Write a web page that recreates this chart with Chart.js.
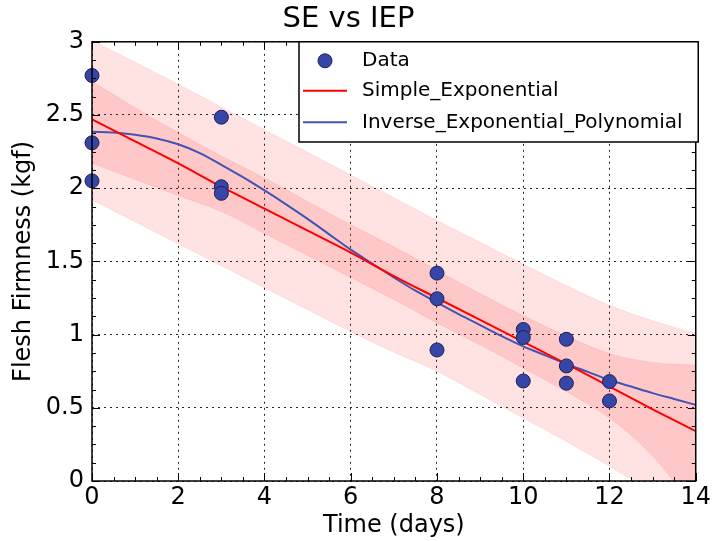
<!DOCTYPE html>
<html><head><meta charset="utf-8">
<script src="https://cdn.jsdelivr.net/npm/chart.js@4.4.1/dist/chart.umd.min.js"></script>
<style>html,body{margin:0;padding:0;background:#fff}canvas{display:block}</style>
</head><body>
<canvas id="c" width="713" height="541"></canvas>
<script>
// ---- chart text ----
const chartTitle = 'SE vs IEP';
const xAxisTitle = 'Time (days)';
const yAxisTitle = 'Flesh Firmness (kgf)';
const xTickLabels = ['0','2','4','6','8','10','12','14'];
const yTickLabels = ['0','0.5','1','1.5','2','2.5','3'];
const seriesNames = ['Data','Simple_Exponential','Inverse_Exponential_Polynomial'];

// ---- measured data ----
const dataX = [0,0,0, 3,3,3, 8,8,8, 10,10,10, 11,11,11, 12,12];
const dataY = [2.77,2.31,2.05, 2.485,2.01,1.965, 1.42,1.245,0.895, 1.035,0.98,0.683, 0.968,0.786,0.668, 0.679,0.547];

// ---- fitted curves ----
const curveX = [0,1,2,3,4,5,6,7,8,9,10,11,12,13,14];
const seY    = [2.47,2.32,2.17,2.01,1.86,1.71,1.56,1.40,1.25,1.10,0.95,0.80,0.645,0.49,0.34];
const iepX   = [0,0.5,1,1.5,2,2.5,3,3.5,4,4.5,5,5.5,6,6.5,7,7.5,8,8.5,9,9.5,10,10.5,11,11.5,12,12.5,13,13.5,14];
const iepY   = [2.385,2.38,2.365,2.34,2.30,2.24,2.16,2.075,1.985,1.89,1.79,1.685,1.58,1.485,1.39,1.30,1.22,1.14,1.065,0.99,0.92,0.86,0.80,0.745,0.69,0.645,0.60,0.56,0.52];

// ---- bands ----
const outerUpper = [3.01,2.86,2.71,2.555,2.40,2.245,2.09,1.935,1.78,1.63,1.48,1.335,1.20,1.095,1.01];
const outerLower = [1.92,1.77,1.62,1.47,1.32,1.17,1.02,0.88,0.75,0.59,0.43,0.27,0.10,-0.08,-0.27];
const innerUpper = [2.73,2.55,2.38,2.22,2.07,1.91,1.75,1.60,1.44,1.28,1.13,0.99,0.87,0.81,0.79];
const innerLower = [2.17,2.06,1.95,1.84,1.69,1.54,1.39,1.24,1.08,0.93,0.77,0.61,0.43,0.17,-0.20];

const FONT = "'DejaVu Sans', 'Liberation Sans', sans-serif";
Chart.defaults.font.family = FONT;
Chart.defaults.color = '#000';

const pts = (xs, ys) => xs.map((x, i) => ({x: x, y: ys[i]}));

const bandStyle = (alpha) => ({
  borderColor: 'rgba(255,0,0,' + (alpha * 0.8) + ')',
  borderWidth: 1,
  backgroundColor: 'rgba(255,0,0,' + alpha + ')',
  pointRadius: 0,
  cubicInterpolationMode: 'monotone'
});

// inward ticks + frame
const frameTicks = {
  id: 'frameTicks',
  afterDatasetsDraw(chart) {
    const {ctx, chartArea: a, scales: {x, y}} = chart;
    ctx.save();
    ctx.strokeStyle = '#000';
    ctx.lineWidth = 1;
    const major = 8, minor = 4;
    for (let v = 0; v <= 14 + 1e-9; v += 0.5) {
      const px = Math.round(x.getPixelForValue(v)) + 0.5;
      const len = (Math.abs(v / 2 - Math.round(v / 2)) < 1e-6) ? major : minor;
      ctx.beginPath();
      ctx.moveTo(px, a.bottom); ctx.lineTo(px, a.bottom - len);
      ctx.moveTo(px, a.top); ctx.lineTo(px, a.top + len);
      ctx.stroke();
    }
    for (let v = 0; v <= 3 + 1e-9; v += 0.125) {
      const py = Math.round(y.getPixelForValue(v)) + 0.5;
      const len = (Math.abs(v / 0.5 - Math.round(v / 0.5)) < 1e-6) ? major : minor;
      ctx.beginPath();
      ctx.moveTo(a.left, py); ctx.lineTo(a.left + len, py);
      ctx.moveTo(a.right, py); ctx.lineTo(a.right - len, py);
      ctx.stroke();
    }
    ctx.lineWidth = 1.5;
    ctx.strokeRect(a.left, a.top, a.right - a.left, a.bottom - a.top);
    ctx.restore();
  }
};

// boxed legend inside the plot, top right
const boxLegend = {
  id: 'boxLegend',
  afterDraw(chart) {
    const {ctx, chartArea: a} = chart;
    const ds = chart.data.datasets;
    const L = 299, T = a.top, R = a.right + 2.5, B = 142;
    ctx.save();
    ctx.fillStyle = '#fff';
    ctx.fillRect(L, T, R - L, B - T);
    ctx.strokeStyle = '#000';
    ctx.lineWidth = 1.5;
    ctx.strokeRect(L, T, R - L, B - T);
    ctx.font = '20px ' + FONT;
    ctx.textBaseline = 'middle';
    ctx.textAlign = 'left';
    const rows = [T + 19, T + 49, T + 80.5];
    for (let i = 0; i < 3; i++) {
      const d = ds[i];
      const yc = rows[i];
      if (i === 0) {
        ctx.beginPath();
        ctx.arc(L + 26, yc, 7, 0, Math.PI * 2);
        ctx.fillStyle = d.pointBackgroundColor;
        ctx.fill();
        ctx.lineWidth = 1;
        ctx.strokeStyle = d.pointBorderColor;
        ctx.stroke();
      } else {
        ctx.beginPath();
        ctx.moveTo(L + 4, yc); ctx.lineTo(L + 48, yc);
        ctx.strokeStyle = d.borderColor;
        ctx.lineWidth = 2;
        ctx.stroke();
      }
      ctx.fillStyle = '#000';
      ctx.fillText(d.label, L + 63, yc);
    }
    ctx.restore();
  }
};

new Chart(document.getElementById('c'), {
  type: 'line',
  data: {
    datasets: [
      {label: seriesNames[0], type: 'scatter', data: pts(dataX, dataY), showLine: false,
       pointRadius: 7, pointHoverRadius: 7, pointBackgroundColor: '#3546a6', pointBorderColor: '#1c1f55',
       pointBorderWidth: 1, clip: false, order: 0},
      {label: seriesNames[1], data: pts(curveX, seY), borderColor: '#ff0000', borderWidth: 2,
       pointRadius: 0, fill: false, cubicInterpolationMode: 'monotone', order: 1},
      {label: seriesNames[2], data: pts(iepX, iepY), borderColor: '#4253b4', borderWidth: 2,
       pointRadius: 0, fill: false, cubicInterpolationMode: 'monotone', order: 2},
      Object.assign({label: 'outerUpper', data: pts(curveX, outerUpper), fill: '+1', order: 3}, bandStyle(0.11)),
      Object.assign({label: 'outerLower', data: pts(curveX, outerLower), fill: false, order: 4}, bandStyle(0.11)),
      Object.assign({label: 'innerUpper', data: pts(curveX, innerUpper), fill: '+1', order: 5}, bandStyle(0.12)),
      Object.assign({label: 'innerLower', data: pts(curveX, innerLower), fill: false, order: 6}, bandStyle(0.12))
    ]
  },
  options: {
    responsive: false,
    animation: false,
    events: [],
    layout: {padding: {left: 0, right: 16, top: 0, bottom: 0}},
    plugins: {
      legend: {display: false},
      tooltip: {enabled: false},
      title: {display: true, text: chartTitle, color: '#000',
              font: {size: 29, weight: 'normal', family: FONT}, padding: {top: 2, bottom: 5}}
    },
    scales: {
      x: {
        type: 'linear', min: 0, max: 14,
        afterBuildTicks: s => { s.ticks = xTickLabels.map(l => ({value: parseFloat(l)})); },
        afterFit: s => { s.height = 60; },
        ticks: {callback: (v, i) => xTickLabels[i], font: {size: 24}, color: '#000', padding: 2, maxRotation: 0, autoSkip: false},
        grid: {color: 'rgba(0,0,0,0.85)', lineWidth: 1, drawTicks: false},
        border: {display: false, dash: [2, 4]},
        title: {display: true, text: xAxisTitle, color: '#000', font: {size: 24}, padding: {top: 0, bottom: 1}}
      },
      y: {
        type: 'linear', min: 0, max: 3,
        afterBuildTicks: s => { s.ticks = yTickLabels.map(l => ({value: parseFloat(l)})); },
        afterFit: s => { s.width = 92; },
        ticks: {callback: (v, i) => yTickLabels[i], font: {size: 24}, color: '#000', padding: 8, autoSkip: false},
        grid: {color: 'rgba(0,0,0,0.85)', lineWidth: 1, drawTicks: false},
        border: {display: false, dash: [2, 4]},
        title: {display: true, text: yAxisTitle, color: '#000', font: {size: 24}, padding: {top: 9.6, bottom: 0}}
      }
    }
  },
  plugins: [frameTicks, boxLegend]
});
</script>
</body></html>
